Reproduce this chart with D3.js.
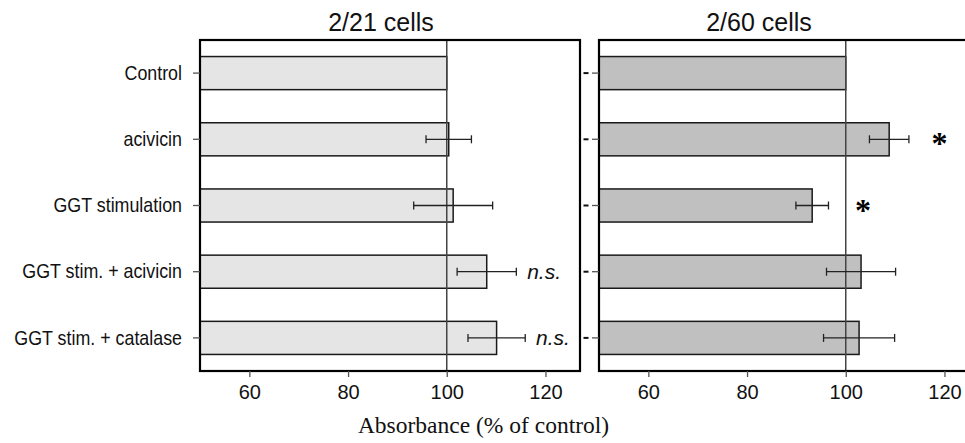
<!DOCTYPE html>
<html>
<head>
<meta charset="utf-8">
<script src="https://cdn.jsdelivr.net/npm/d3@7"></script>
<style>
  html, body { margin: 0; padding: 0; background: #fff; }
  svg { display: block; }
</style>
</head>
<body>
<svg id="chart" width="965" height="443"></svg>
<script>
// ---- data ----
const categories = ["Control", "acivicin", "GGT stimulation", "GGT stim. + acivicin", "GGT stim. + catalase"];
const panelTitles = ["2/21 cells", "2/60 cells"];
const means2_21 = [100, 100.4, 101.3, 108.1, 110.1];
const errors2_21 = [null, 4.6, 8.0, 6.0, 5.8];
const means2_60 = [100, 108.8, 93.2, 103.1, 102.7];
const errors2_60 = [null, 4.0, 3.3, 7.0, 7.2];
const notes2_21 = [null, null, null, "n.s.", "n.s."];
const notes2_60 = [null, "*", "*", null, null];
const noteX2_21 = [null, null, null, 116.3, 118.1];
const noteX2_60 = [null, 119, 103.5, null, null];
const xTicks = [60, 80, 100, 120];
const xDomain = [50, 127];
const refValue = 100;
const axisTitle = "Absorbance (% of control)";

// ---- layout ----
const svg = d3.select("#chart");
const plotTop = 40, plotBottom = 371;
const panels = [
  { x0: 200, x1: 580, means: means2_21, errs: errors2_21, notes: notes2_21, noteX: noteX2_21, fill: "#e5e5e5", title: panelTitles[0], titleX: 381 },
  { x0: 599, x1: 979, means: means2_60, errs: errors2_60, notes: notes2_60, noteX: noteX2_60, fill: "#c0c0c0", title: panelTitles[1], titleX: 759 }
];

const y = d3.scaleBand().domain(categories).range([plotTop, plotBottom]).paddingInner(0.5).paddingOuter(0.25);

panels.forEach((p, pi) => {
  const x = d3.scaleLinear().domain(xDomain).range([p.x0, p.x1]);
  const g = svg.append("g");
  const rows = categories.map((c, i) => ({ c, m: p.means[i], e: p.errs[i], note: p.notes[i], nx: p.noteX[i] }));

  // bars
  g.selectAll("rect.bar").data(rows).join("rect")
    .attr("class", "bar")
    .attr("x", x(xDomain[0]))
    .attr("y", d => y(d.c))
    .attr("width", d => x(d.m) - x(xDomain[0]))
    .attr("height", y.bandwidth())
    .attr("fill", p.fill)
    .attr("stroke", "#1a1a1a")
    .attr("stroke-width", 1.5);

  // reference line
  g.append("line")
    .attr("x1", x(refValue)).attr("x2", x(refValue))
    .attr("y1", plotTop).attr("y2", plotBottom)
    .attr("stroke", "#444").attr("stroke-width", 1.5);

  // error bars
  const eb = rows.filter(d => d.e != null);
  const cy = d => y(d.c) + y.bandwidth() / 2;
  const cap = 4;
  g.selectAll("line.eb").data(eb).join("line")
    .attr("class", "eb")
    .attr("x1", d => x(d.m - d.e)).attr("x2", d => x(d.m + d.e))
    .attr("y1", cy).attr("y2", cy)
    .attr("stroke", "#222").attr("stroke-width", 1.3);
  g.selectAll("line.ebl").data(eb).join("line")
    .attr("class", "ebl")
    .attr("x1", d => x(d.m - d.e)).attr("x2", d => x(d.m - d.e))
    .attr("y1", d => cy(d) - cap).attr("y2", d => cy(d) + cap)
    .attr("stroke", "#222").attr("stroke-width", 1.3);
  g.selectAll("line.ebr").data(eb).join("line")
    .attr("class", "ebr")
    .attr("x1", d => x(d.m + d.e)).attr("x2", d => x(d.m + d.e))
    .attr("y1", d => cy(d) - cap).attr("y2", d => cy(d) + cap)
    .attr("stroke", "#222").attr("stroke-width", 1.3);

  // annotations
  rows.filter(d => d.note).forEach(d => {
    if (d.note === "*") {
      g.append("text")
        .attr("x", x(d.nx)).attr("y", cy(d) + 15)
        .attr("text-anchor", "middle")
        .attr("font-family", "Liberation Serif, serif")
        .attr("font-weight", "bold")
        .attr("font-size", 32)
        .attr("fill", "#000")
        .text("*");
    } else {
      g.append("text")
        .attr("x", x(d.nx)).attr("y", cy(d))
        .attr("dy", "0.35em")
        .attr("font-family", "Liberation Sans, Arial, sans-serif")
        .attr("font-style", "italic")
        .attr("font-size", 21)
        .attr("fill", "#111")
        .text(d.note);
    }
  });

  // frame
  g.append("rect")
    .attr("x", p.x0).attr("y", plotTop)
    .attr("width", p.x1 - p.x0).attr("height", plotBottom - plotTop)
    .attr("fill", "none").attr("stroke", "#000").attr("stroke-width", 2.2);

  // x axis
  const xa = g.append("g").attr("transform", `translate(0,${plotBottom})`)
    .call(d3.axisBottom(x).tickValues(xTicks).tickSize(6).tickSizeOuter(0).tickPadding(8));
  xa.select(".domain").remove();
  xa.selectAll(".tick line").attr("stroke", "#555").attr("stroke-width", 1.3);
  xa.selectAll(".tick text")
    .attr("font-family", "Liberation Sans, Arial, sans-serif")
    .attr("font-size", 20).attr("fill", "#111");

  // y ticks
  if (pi === 0) {
    const ya = g.append("g").attr("transform", `translate(${p.x0},0)`)
      .call(d3.axisLeft(y).tickSize(7).tickSizeOuter(0).tickPadding(11));
    ya.select(".domain").remove();
    ya.selectAll(".tick line").attr("stroke", "#555").attr("stroke-width", 1.3);
    ya.selectAll(".tick text")
      .attr("font-family", "Liberation Sans, Arial, sans-serif")
      .attr("font-size", 21).attr("fill", "#111")
      .each(function() {
        const t = d3.select(this);
        const xx = +t.attr("x");
        t.attr("x", null);
        t.attr("transform", `translate(${xx},0) scale(0.85,1)`);
      });
    // small dashes right of left panel
    g.selectAll("line.rd").data(categories).join("line")
      .attr("class", "rd")
      .attr("x1", p.x1 + 3.5).attr("x2", p.x1 + 8.5)
      .attr("y1", d => y(d) + y.bandwidth() / 2).attr("y2", d => y(d) + y.bandwidth() / 2)
      .attr("stroke", "#111").attr("stroke-width", 2);
  } else {
    const ya = g.append("g").attr("transform", `translate(${p.x0},0)`)
      .call(d3.axisLeft(y).tickSize(7).tickSizeOuter(0).tickFormat(""));
    ya.select(".domain").remove();
    ya.selectAll(".tick line").attr("stroke", "#555").attr("stroke-width", 1.3);
  }

  // title
  svg.append("text")
    .attr("x", p.titleX).attr("y", 31)
    .attr("text-anchor", "middle")
    .attr("font-family", "Liberation Sans, Arial, sans-serif")
    .attr("font-size", 25).attr("fill", "#111")
    .text(p.title);
});

svg.append("text")
  .attr("x", 483.5).attr("y", 433)
  .attr("text-anchor", "middle")
  .attr("font-family", "Liberation Serif, 'Times New Roman', serif")
  .attr("font-size", 23.5).attr("fill", "#111")
  .text(axisTitle);
</script>
</body>
</html>
